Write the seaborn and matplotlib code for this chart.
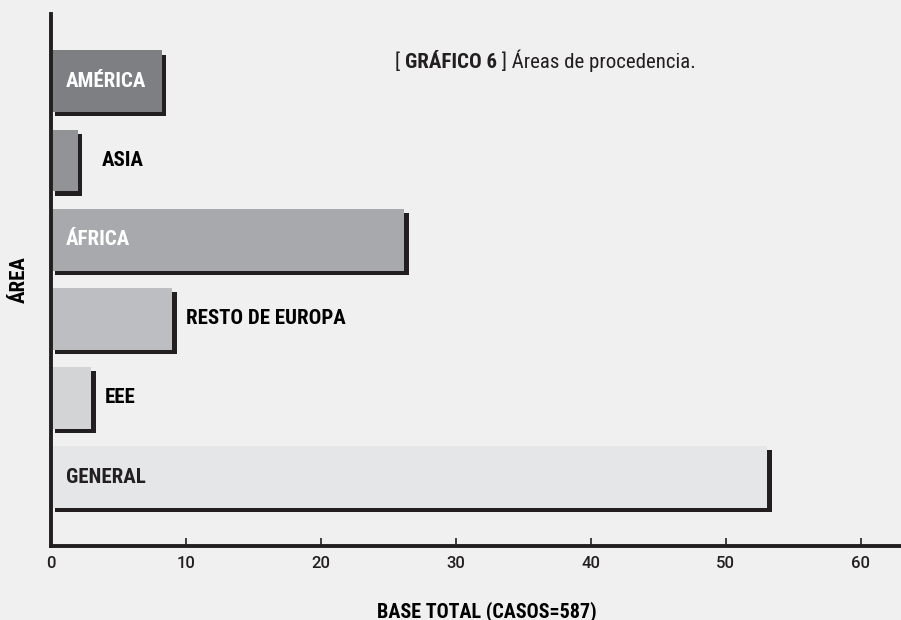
# Gráfico 6 - Áreas de procedencia
import matplotlib
matplotlib.use('Agg')
import pandas as pd
import seaborn as sns
from matplotlib import pyplot as plt
from matplotlib import patheffects as pe
from matplotlib import font_manager

# Data
areas = ['AMÉRICA', 'ASIA', 'ÁFRICA', 'RESTO DE EUROPA', 'EEE', 'GENERAL']
valores = [8.2, 2.0, 26.2, 9.0, 3.0, 53.1]
colores = ['#7e7f83', '#929396', '#a8a9ac', '#bdbec1', '#d3d4d6', '#e5e6e8']
etiqueta_dentro = [True, False, True, False, False, True]
color_etiqueta = ['white', 'black', 'white', 'black', 'black', '#231f20']
xticks = [0, 10, 20, 30, 40, 50, 60]

df = pd.DataFrame({'area': areas, 'valor': valores})

# Condensed font if available
disponibles = {f.name for f in font_manager.fontManager.ttflist}
familia = [f for f in ['Roboto Condensed', 'Liberation Sans Narrow', 'Liberation Sans', 'DejaVu Sans'] if f in disponibles]
familia_ticks = [f for f in ['Roboto', 'Liberation Sans', 'DejaVu Sans'] if f in disponibles]

sns.set_theme(style='white')
plt.rcParams['font.family'] = familia
plt.rcParams['figure.facecolor'] = '#eff0ef'
plt.rcParams['axes.facecolor'] = '#eff0ef'

fig = plt.figure(figsize=(9.01, 6.2), dpi=100)
ax = fig.add_axes([51 / 901, 74 / 620, 850 / 901, 532 / 620])

sns.barplot(data=df, x='valor', y='area', hue='area', palette=colores,
            legend=False, width=0.78, saturation=1, ax=ax, orient='h')

dark = '#231f20'
for patch in ax.patches:
    patch.set_edgecolor('none')
    patch.set_path_effects([pe.SimplePatchShadow(offset=(3, -3), shadow_rgbFace=dark, alpha=1.0),
                            pe.Normal()])

ax.set_xlim(0, 63)
ax.set_ylim(5.87, -0.85)

# Bar labels
for i, (nombre, v) in enumerate(zip(areas, valores)):
    if etiqueta_dentro[i]:
        x = 1.1
    else:
        x = max(v + 1.0, 3.8)
    ax.text(x, i, nombre, va='center', ha='left', fontsize=15, fontweight='bold',
            color=color_etiqueta[i])

# Axes styling
for s in ['top', 'right']:
    ax.spines[s].set_visible(False)
for s in ['left', 'bottom']:
    ax.spines[s].set_color(dark)
    ax.spines[s].set_linewidth(2.8)
ax.set_xticks(xticks)
ax.set_xticklabels([str(t) for t in xticks], fontsize=12, color=dark,
                   family=familia_ticks, fontweight='medium')
ax.tick_params(axis='x', direction='in', length=6, width=1.2, color=dark, pad=7, bottom=True)
ax.set_yticks([])
ax.set_ylabel('ÁREA', fontsize=15, fontweight='bold', color='black', labelpad=16)
ax.set_xlabel('')
fig.text(487 / 901, 3 / 620, 'BASE TOTAL (CASOS=587)', fontsize=14.5, fontweight='bold',
         color='black', ha='center', va='baseline')

# Title with bold part
t1 = ax.text(395 / 901, 1 - 68 / 620, '[ ', transform=fig.transFigure, fontsize=15,
             color=dark, va='baseline', ha='left')
t2 = ax.annotate('GRÁFICO 6', xy=(1, 0), xycoords=t1, va='bottom', ha='left',
                 fontsize=15, fontweight='bold', color=dark)
t3 = ax.annotate(' ] Áreas de procedencia.', xy=(1, 0), xycoords=t2, va='bottom', ha='left',
                 fontsize=15, color=dark)

plt.savefig('out.png', dpi=100)
